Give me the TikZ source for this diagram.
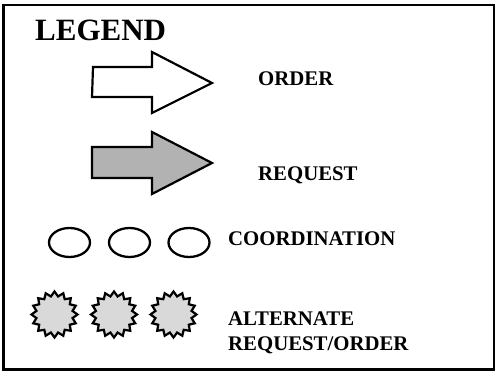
\documentclass[tikz,border=0pt]{standalone}
\usepackage{fontspec}
\setmainfont{Liberation Serif}
\usetikzlibrary{shapes.geometric}
\tikzset{
  frame/.style={draw=black, line width=2.2pt},
  bigarrow/.style={draw=black, line width=2.2pt, line join=miter},
  label/.style={anchor=base west, inner sep=0pt, font=\bfseries\fontsize{20.8}{25}\selectfont, align=left},
  coord/.style={ellipse, draw=black, line width=2.3pt, minimum width=41pt, minimum height=29pt, inner sep=0pt},
  burst/.style={star, star points=16, star point ratio=1.25, draw=black, line width=2.2pt, fill=burstgrey, minimum size=46pt, inner sep=0pt}
}
\definecolor{arrowgrey}{HTML}{B2B2B2}
\definecolor{burstgrey}{HTML}{D9D9D9}
\begin{document}
\begin{tikzpicture}[x=1pt, y=-1pt]
  \useasboundingbox (0,0) rectangle (496,372);
  % outer frame
  \draw[frame] (3.5,5) rectangle (494,369.5);

  % title
  \node[anchor=base west, inner sep=0pt, font=\bfseries\fontsize{31}{36}\selectfont] (title) at (35,41) {LEGEND};

  % order arrow (open)
  \draw[bigarrow, fill=white] (93,67) -- (152,67) -- (152,52) -- (212,83) -- (152,113) -- (152,97) -- (92,97) -- cycle;
  \node[label] (order) at (258,85) {ORDER};

  % request arrow (shaded)
  \draw[bigarrow, fill=arrowgrey] (92,147) -- (152,147) -- (152,132) -- (212,163) -- (152,194) -- (152,178) -- (92,178) -- cycle;
  \node[label] (request) at (258,180.5) {REQUEST};

  % coordination ovals
  \node[coord] (c1) at (69.5,242.5) {};
  \node[coord] (c2) at (129.5,242.5) {};
  \node[coord] (c3) at (189,242.5) {};
  \node[label] (coordination) at (228,245) {COORDINATION};

  % alternate request/order bursts
  \node[burst] (s1) at (54.5,314.5) {};
  \node[burst] (s2) at (114,314.5) {};
  \node[burst] (s3) at (173.5,314.5) {};
  % two-line label: the base anchor sits on the last line
  \node[label] (alternate) at (228,350) {ALTERNATE\\REQUEST/ORDER};
\end{tikzpicture}
\end{document}
